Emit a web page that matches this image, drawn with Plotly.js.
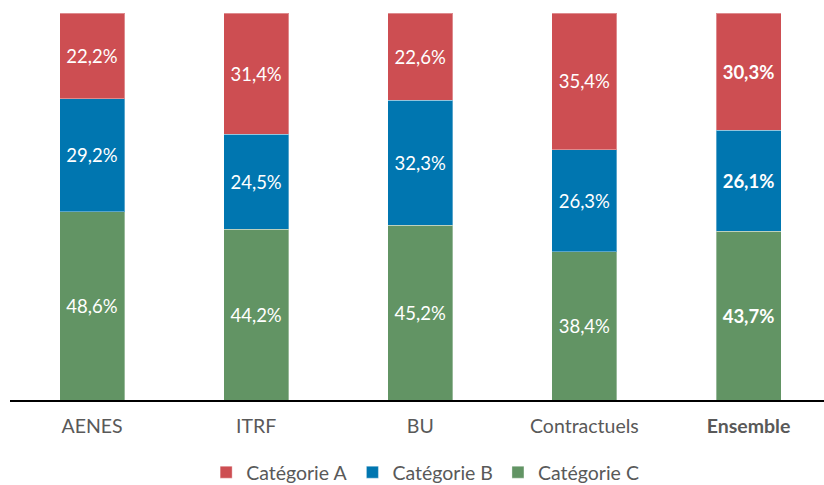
<!DOCTYPE html>
<html>
<head>
<meta charset="utf-8">
<script src="https://cdn.plot.ly/plotly-3.0.1.min.js"></script>
<style>html,body{margin:0;padding:0;background:#fff;}</style>
</head>
<body>
<div id="chart" style="width:824px;height:485px;"></div>
<script>
const categories = ["AENES", "ITRF", "BU", "Contractuels", "Ensemble"];
const tickLabels = ["AENES", "ITRF", "BU", "Contractuels", "<b>Ensemble</b>"];
const catA = [22.2, 31.4, 22.6, 35.4, 30.3];
const catB = [29.2, 24.5, 32.3, 26.3, 26.1];
const catC = [48.6, 44.2, 45.2, 38.4, 43.7];
const seriesNames = ["Catégorie A", "Catégorie B", "Catégorie C"];

function fmt(vals) {
  return vals.map((v, i) => {
    const s = v.toFixed(1).replace('.', ',') + '%';
    return i === categories.length - 1 ? '<b>' + s + '</b>' : s;
  });
}

function trace(name, vals, color) {
  return {
    type: 'bar', name: name, x: categories, y: vals,
    text: fmt(vals), textposition: 'inside', insidetextanchor: 'middle',
    textangle: 0,
    textfont: {family: 'Lato, "Open Sans", sans-serif', size: 18.5, color: '#ffffff'},
    marker: {color: color, line: {color: 'rgba(255,255,255,0.35)', width: 1}},
    hoverinfo: 'none'
  };
}

const data = [
  trace(seriesNames[2], catC, '#629464'),
  trace(seriesNames[1], catB, '#0076B0'),
  trace(seriesNames[0], catA, '#CD4E52')
];

const layout = {
  width: 824, height: 485,
  margin: {l: 10, r: 0, t: 13, b: 85},
  barmode: 'stack', barnorm: 'percent', bargap: 0.604,
  paper_bgcolor: '#fff', plot_bgcolor: '#fff',
  font: {family: 'Lato, "Open Sans", sans-serif', color: '#595959', size: 17},
  xaxis: {
    type: 'category', tickvals: categories, ticktext: tickLabels,
    range: [-0.5, 4.46], showgrid: false, showline: true, linecolor: '#000', linewidth: 2,
    ticks: '', ticklabelstandoff: 8, tickfont: {size: 19.5, color: '#595959'}, zeroline: false,
    automargin: false
  },
  yaxis: {range: [0, 100], visible: false, showgrid: false, zeroline: false, automargin: false},
  showlegend: true,
  legend: {
    orientation: 'h', traceorder: 'reversed', x: 0.51, xanchor: 'center',
    yref: 'container', y: 0, yanchor: 'bottom', font: {size: 19.5, color: '#595959'},
    itemwidth: 30
  }
};

Plotly.newPlot('chart', data, layout, {displayModeBar: false, staticPlot: true}).then(function (gd) {
  // nudge the legend a few pixels lower (its inner padding keeps it above the reference position)
  const lg = gd.querySelector('g.legend');
  if (lg) {
    const t = lg.getAttribute('transform') || '';
    const m = t.match(/translate\(\s*([-\d.]+)[ ,]+([-\d.]+)\s*\)/);
    if (m) lg.setAttribute('transform', 'translate(' + m[1] + ',' + (parseFloat(m[2]) + 7) + ')');
  }
});
</script>
</body>
</html>
